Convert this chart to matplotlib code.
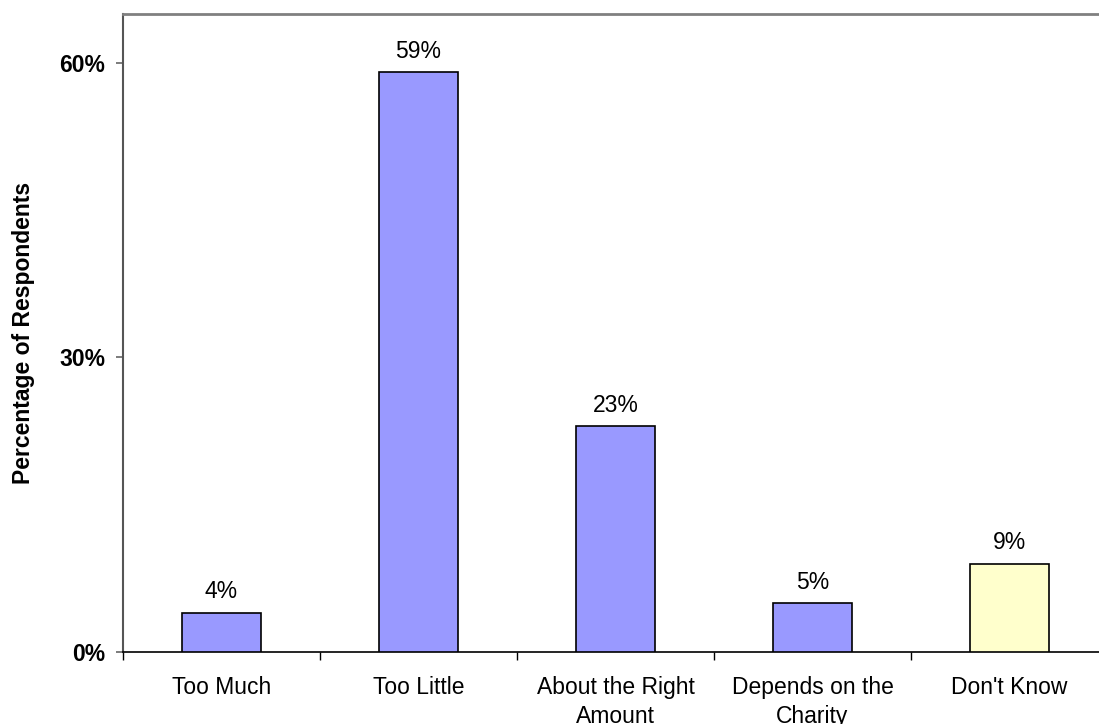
import matplotlib
matplotlib.use("Agg")
import matplotlib.pyplot as plt
from matplotlib.ticker import FuncFormatter, FixedLocator

categories = ["Too Much", "Too Little", "About the Right\nAmount", "Depends on the\nCharity", "Don't Know"]
values = [4, 59, 23, 5, 9]
bar_colors = ["#9999FF", "#9999FF", "#9999FF", "#9999FF", "#FFFFCC"]
y_ticks = [0, 30, 60]

plt.rcParams["font.family"] = ["Liberation Sans", "DejaVu Sans"]
FS = 16.5

fig = plt.figure(figsize=(10.99, 7.24), dpi=100)
ax = fig.add_axes([123 / 1099, 72 / 724, 985 / 1099, 638.5 / 724])

x = list(range(len(categories)))
ax.bar(x, values, width=0.4, color=bar_colors, edgecolor="black", linewidth=1.2, zorder=3)

for xi, v in zip(x, values):
    ax.annotate(f"{v}%", (xi, v), xytext=(0, 6.7), textcoords="offset points",
                ha="center", va="bottom", fontsize=FS)

ax.set_xlim(-0.5, len(categories) - 0.5)
ax.set_ylim(0, 65)

ax.yaxis.set_major_locator(FixedLocator(y_ticks))
ax.yaxis.set_major_formatter(FuncFormatter(lambda v, p: f"{v:.0f}%"))
for lbl in ax.get_yticklabels():
    lbl.set_fontweight("bold")
ax.tick_params(axis="y", direction="out", length=5, width=1.2, color="#666666",
               labelsize=FS, pad=8)

# category boundary ticks below the baseline, labels centred under bars
ax.set_xticks([i - 0.5 for i in range(len(categories) + 1)])
ax.set_xticklabels([])
ax.set_xticks(x, minor=True)
ax.set_xticklabels(categories, minor=True, fontsize=FS)
ax.tick_params(axis="x", which="major", direction="out", length=6, width=1, color="black")
ax.tick_params(axis="x", which="minor", length=0, pad=17.5)
for lbl in ax.get_xticklabels(minor=True):
    lbl.set_verticalalignment("top")
    lbl.set_linespacing(1.3)

ax.set_ylabel("Percentage of Respondents", fontsize=FS, fontweight="bold", labelpad=17)

ax.spines["right"].set_visible(False)
ax.spines["top"].set_color("#808080")
ax.spines["top"].set_linewidth(2)
ax.spines["left"].set_color("#555555")
ax.spines["left"].set_linewidth(1.5)
ax.spines["bottom"].set_color("black")
ax.spines["bottom"].set_linewidth(1.2)

fig.savefig("out.png", dpi=100)
